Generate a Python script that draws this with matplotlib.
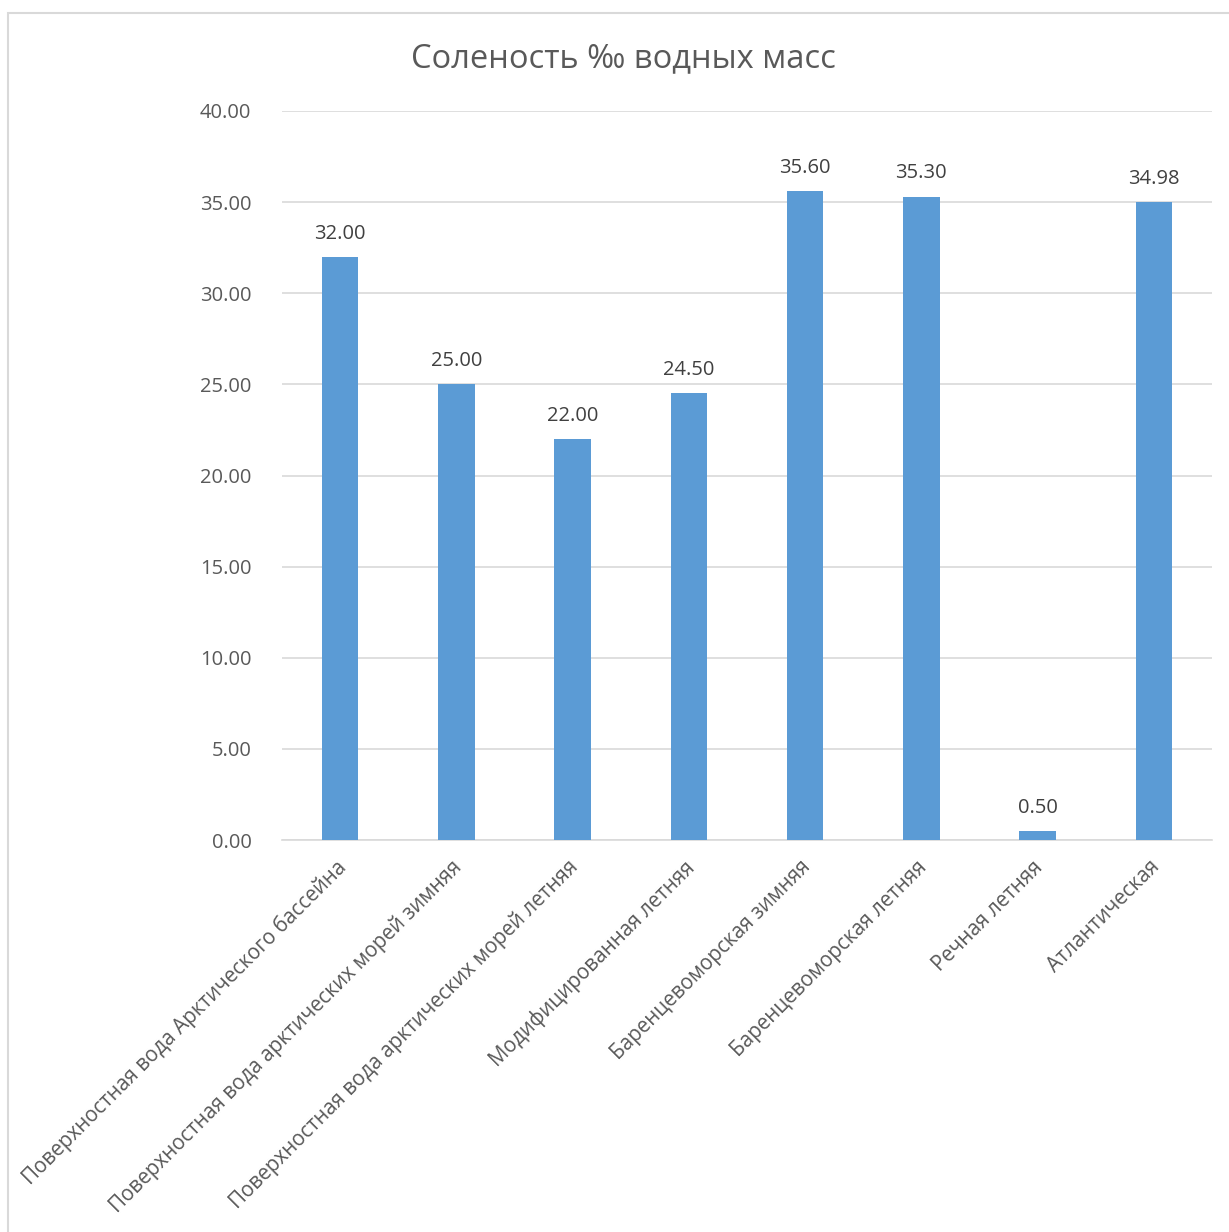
import matplotlib
matplotlib.use("Agg")
import matplotlib.pyplot as plt
import matplotlib.transforms as mtransforms
from matplotlib.patches import Rectangle

categories = [
    "Поверхностная вода Арктического бассейна",
    "Поверхностная вода арктических морей зимняя",
    "Поверхностная вода арктических морей летняя",
    "Модифицированная летняя",
    "Баренцевоморская зимняя",
    "Баренцевоморская летняя",
    "Речная летняя",
    "Атлантическая",
]
salinity = [32.00, 25.00, 22.00, 24.50, 35.60, 35.30, 0.50, 34.98]
y_ticks = [0, 5, 10, 15, 20, 25, 30, 35, 40]
title = "Соленость ‰ водных масс"

W, H = 1229, 1232
fig = plt.figure(figsize=(W / 100, H / 100), dpi=100)
plt.rcParams["font.family"] = ["Open Sans", "DejaVu Sans"]

# chart frame (extends past the right and bottom edges)
fig.patches.append(Rectangle((8 / W, -0.1), 1.2, 1 - 13 / H + 0.1,
                             transform=fig.transFigure, fill=False,
                             edgecolor="#D9D9D9", linewidth=1.5, zorder=0))

left, right, top, bottom = 282 / W, 1212 / W, 1 - 111 / H, 1 - 840 / H
ax = fig.add_axes([left, bottom, right - left, top - bottom])

x = list(range(len(categories)))
bars = ax.bar(x, salinity, width=0.313, color="#5B9BD5", zorder=3)

ax.set_xlim(-0.5, len(categories) - 0.5)
ax.set_ylim(0, 40)
ax.set_yticks(y_ticks)
ax.set_yticklabels([f"{v:.2f}" for v in y_ticks])
ax.yaxis.grid(True, color="#D9D9D9", linewidth=1.2, zorder=0)
ax.set_axisbelow(True)
for s in ["top", "right", "left"]:
    ax.spines[s].set_visible(False)
ax.spines["bottom"].set_color("#D9D9D9")
ax.spines["bottom"].set_linewidth(1.2)
ax.tick_params(axis="y", length=0, pad=22, labelsize=14.5, labelcolor="#595959")
ax.tick_params(axis="x", length=0, pad=12, labelsize=14.9, labelcolor="#595959")

ax.set_xticks(x)
ax.set_xticklabels(categories, rotation=45, ha="right", va="top",
                   rotation_mode="anchor")
shift = mtransforms.ScaledTranslation(-5 / 100, 0, fig.dpi_scale_trans)
for lbl in ax.get_xticklabels():
    lbl.set_transform(lbl.get_transform() + shift)

for xi, v in zip(x, salinity):
    ax.annotate(f"{v:.2f}", (xi, v), xytext=(0, 9.5), textcoords="offset points",
                ha="center", va="bottom", fontsize=14.5, color="#404040")

fig.text(623 / W, 1 - 59 / H, title, ha="center", va="center",
         fontsize=23.5, color="#595959")

fig.savefig("out.png", dpi=100)
